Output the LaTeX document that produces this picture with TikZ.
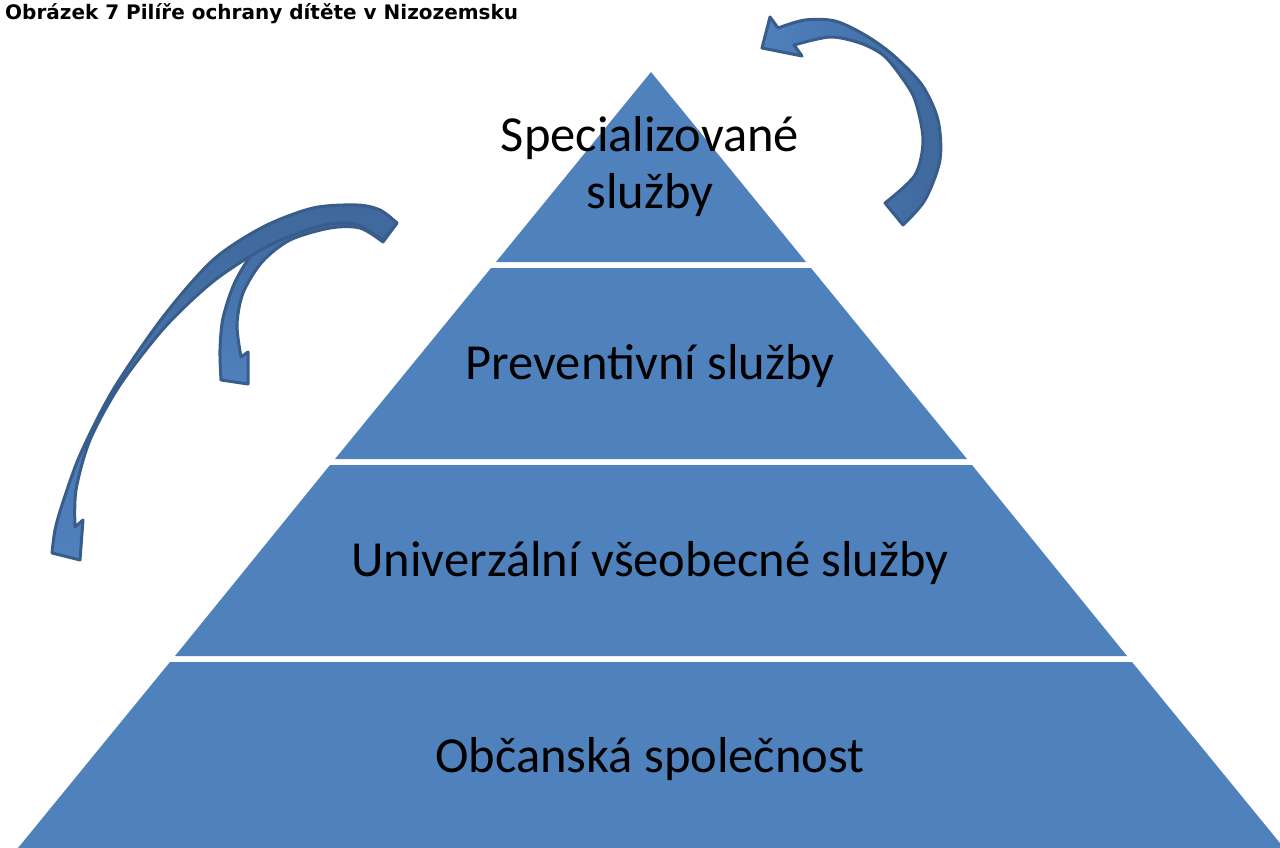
\documentclass[tikz,border=0pt]{standalone}
\usepackage{fontspec}
\setmainfont{Carlito}
\newfontfamily\capfont{DejaVu Sans}
\usetikzlibrary{positioning}

\definecolor{pyrblue}{RGB}{79,129,189}
\definecolor{arrowdark}{RGB}{63,104,156}
\definecolor{arrowedge}{RGB}{56,93,138}

\tikzset{
  tier/.style={fill=pyrblue},
  tierlabel/.style={font=\fontsize{50.5}{57}\selectfont, text=black, align=center, inner sep=0pt},
  bentarrow/.style={draw=arrowedge, line width=3pt, line join=round}
}

\begin{document}
\begin{tikzpicture}[x=1pt,y=-1pt]
  \useasboundingbox (0,0) rectangle (1280,848);
  \node[anchor=base west, inner sep=0pt, font=\capfont\bfseries\fontsize{20}{22}\selectfont] (caption) at (5,20) {Obrázek 7 Pilíře ochrany dítěte v Nizozemsku};
  % pyramid, top to bottom
  \fill[tier] (651,72) -- (806,262) -- (496,262) -- cycle;
  \fill[tier] (491,268) -- (811,268) -- (967,459) -- (335,459) -- cycle;
  \fill[tier] (330,465) -- (972,465) -- (1127,656) -- (175,656) -- cycle;
  \fill[tier] (170,662) -- (1132,662) -- (1284,848) -- (18,848) -- cycle;
  \node[tierlabel, anchor=base] (spec) at (650,208) {Specializované\\služby};
  \node[tierlabel, anchor=base] (prev) at (650,379) {Preventivní služby};
  \node[tierlabel, anchor=base] (univ) at (650,576) {Univerzální všeobecné služby};
  \node[tierlabel, anchor=base] (obc) at (650,772) {Občanská společnost};
  % curved arrow, top right
  \shadedraw[bentarrow, left color=pyrblue, right color=arrowdark]
    plot[smooth] coordinates {(903,225) (925,200) (940,160) (938,120) (922,85) (893,55) (865,35) (835,21) (805,20) (778,28)}
    -- (770,17) -- (762,48) -- (802,56) -- (794,45)
    -- plot[smooth] coordinates {(794,45) (830,37) (860,43) (883,55) (900,75) (915,100) (923,140) (915,175) (885,203)}
    -- cycle;
  % curved arrow, short one on the left
  \shadedraw[bentarrow, top color=arrowdark, bottom color=pyrblue]
    plot[smooth] coordinates {(397,223) (380,212) (355,208) (315,213) (280,228) (255,250) (235,282) (223,318) (220,350) (221,380)}
    -- (248,384) -- (248,352) -- (241,357)
    -- plot[smooth] coordinates {(241,357) (237,325) (243,293) (262,262) (290,240) (330,228) (360,228) (383,242)}
    -- cycle;
  % curved arrow, long one on the left
  \shadedraw[bentarrow, top color=arrowdark, bottom color=pyrblue]
    plot[smooth] coordinates {(397,223) (380,210) (357,205) (313,208) (263,227) (213,260) (163,317) (113,390) (80,455) (62,505) (55,530) (52,553)}
    -- (80,560) -- (83,520) -- (75,527)
    -- plot[smooth] coordinates {(75,527) (76,490) (90,440) (120,385) (165,327) (215,280) (270,245) (320,226) (355,224) (383,240)}
    -- cycle;
\end{tikzpicture}
\end{document}
